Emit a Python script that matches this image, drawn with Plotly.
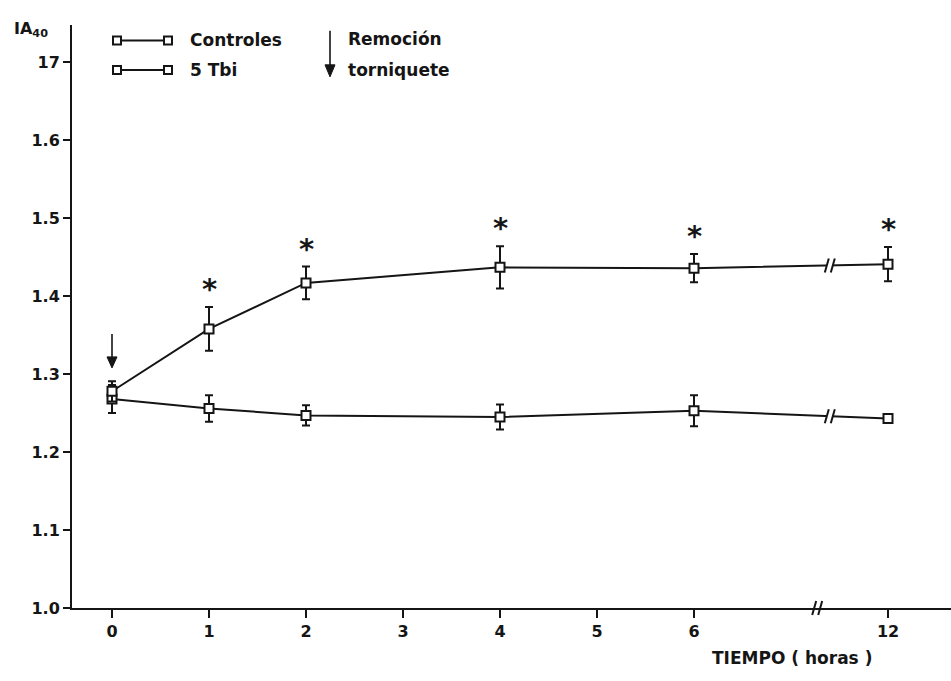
import plotly.graph_objects as go

# Time points (hours) and group means / errors of IA40
hours = [0, 1, 2, 4, 6, 12]
tbi_mean = [1.278, 1.358, 1.417, 1.437, 1.436, 1.441]
tbi_err = [0.013, 0.028, 0.021, 0.027, 0.018, 0.022]
ctl_mean = [1.268, 1.256, 1.247, 1.245, 1.253, 1.243]
ctl_err = [0.018, 0.017, 0.013, 0.016, 0.020, 0.0]
signif = [False, True, True, True, True, True]

x_ticks = [0, 1, 2, 3, 4, 5, 6, 12]
y_ticks = [1.0, 1.1, 1.2, 1.3, 1.4, 1.5, 1.6, 1.7]
y_tick_text = ["1.0", "1.1", "1.2", "1.3", "1.4", "1.5", "1.6", "17"]

W, H = 951, 681
FONT = "DejaVu Sans"
INK = "#151515"


def pos(h):
    # broken time axis: 6 -> 12 h compressed into two unit steps
    return h if h <= 6 else 6 + (h - 6) / 3.0


xp = [pos(h) for h in hours]

fig = go.Figure()

for mean, err in [(ctl_mean, ctl_err), (tbi_mean, tbi_err)]:
    fig.add_trace(go.Scatter(
        x=xp, y=mean, mode="lines+markers",
        line=dict(color=INK, width=2),
        marker=dict(symbol="square", size=9, color="white",
                    line=dict(color=INK, width=2)),
        error_y=dict(type="data", array=err, visible=True,
                     color=INK, thickness=2, width=4),
        showlegend=False, hoverinfo="skip",
    ))

# significance asterisks above the treated group
for x, m, e, s in zip(xp, tbi_mean, tbi_err, signif):
    if s:
        fig.add_annotation(x=x, y=m + e, xref="x", yref="y", text="<b>*</b>",
                           showarrow=False, yanchor="bottom", yshift=-1,
                           font=dict(family=FONT, size=29, color=INK))


def down_arrow(xref, yref, x, y, length, head=11, half=5):
    # vertical arrow whose tip sits at (x, y); sizes in pixels
    fig.add_shape(type="line", xref=xref, yref=yref,
                  xsizemode="pixel", ysizemode="pixel", xanchor=x, yanchor=y,
                  x0=0, x1=0, y0=head - 2, y1=length,
                  line=dict(color=INK, width=1.6))
    fig.add_shape(type="path", xref=xref, yref=yref,
                  xsizemode="pixel", ysizemode="pixel", xanchor=x, yanchor=y,
                  path=f"M 0 0 L {-half} {head} L {half} {head} Z",
                  fillcolor=INK, line=dict(color=INK, width=1))


# tourniquet removal arrow at time 0
down_arrow("x", "y", 0, ctl_mean[0] + 0.040, 34)

# axis break marks
x_break = 7.27
for dx in (-5, 1):
    fig.add_shape(type="line", xref="x", yref="paper",
                  xsizemode="pixel", ysizemode="pixel",
                  xanchor=x_break, yanchor=(H - 617) / H,
                  x0=dx, x1=dx + 4, y0=-7, y1=7,
                  line=dict(color=INK, width=2))

# break marks on the 6 -> 12 h segments
x_lb = 7.40
for mean in (tbi_mean, ctl_mean):
    y_lb = mean[4] + (mean[5] - mean[4]) * (x_lb - xp[4]) / (xp[5] - xp[4])
    fig.add_shape(type="line", xref="x", yref="y",
                  xsizemode="pixel", ysizemode="pixel",
                  xanchor=x_lb, yanchor=y_lb, x0=-3, x1=3, y0=0, y1=0,
                  line=dict(color="white", width=4))
    for dx in (-5, 1):
        fig.add_shape(type="line", xref="x", yref="y",
                      xsizemode="pixel", ysizemode="pixel",
                      xanchor=x_lb, yanchor=y_lb,
                      x0=dx, x1=dx + 4, y0=-7, y1=7,
                      line=dict(color=INK, width=2))

# key, drawn on a pixel overlay
for yk, label in [(41, "Controles"), (71, "5 Tbi")]:
    fig.add_trace(go.Scatter(
        x=[117, 168], y=[yk, yk], xaxis="x2", yaxis="y2",
        mode="lines+markers", line=dict(color=INK, width=2),
        marker=dict(symbol="square", size=8, color="white",
                    line=dict(color=INK, width=2)),
        showlegend=False, hoverinfo="skip"))
    fig.add_annotation(x=188, y=yk, xref="x2", yref="y2", text=f"<b>{label}</b>",
                       showarrow=False, xanchor="left", yanchor="middle",
                       font=dict(family=FONT, size=17, color=INK))

down_arrow("x2", "y2", 330, 78, 46, head=12)
for yk, label in [(40, "Remoción"), (71, "torniquete")]:
    fig.add_annotation(x=346, y=yk, xref="x2", yref="y2", text=f"<b>{label}</b>",
                       showarrow=False, xanchor="left", yanchor="middle",
                       font=dict(family=FONT, size=17, color=INK))

fig.add_annotation(x=12, y=30, xref="x2", yref="y2",
                   text="<b>IA<sub>40</sub></b>", showarrow=False,
                   xanchor="left", yanchor="middle",
                   font=dict(family=FONT, size=16, color=INK))
fig.add_annotation(x=792, y=668, xref="x2", yref="y2",
                   text="<b>TIEMPO ( horas )</b>", showarrow=False,
                   xanchor="center", yanchor="middle",
                   font=dict(family=FONT, size=17, color=INK))

fig.update_layout(
    width=W, height=H, margin=dict(l=0, r=0, t=0, b=0),
    paper_bgcolor="white", plot_bgcolor="rgba(0,0,0,0)",
    xaxis=dict(domain=[72 / W, 1.0], range=[-40 / 97, 839 / 97],
               tickvals=[pos(h) for h in x_ticks],
               ticktext=[str(h) for h in x_ticks],
               ticks="outside", ticklen=8, tickwidth=2, tickcolor=INK,
               showline=True, linewidth=2, linecolor=INK,
               showgrid=False, zeroline=False,
               tickfont=dict(family=FONT, size=16, color=INK, weight="bold")),
    yaxis=dict(domain=[(H - 617) / H, (H - 25) / H],
               range=[1.0, 1.0 + 592 / 791],
               tickvals=y_ticks, ticktext=y_tick_text,
               ticks="outside", ticklen=7, tickwidth=2, tickcolor=INK,
               showline=True, linewidth=2, linecolor=INK,
               showgrid=False, zeroline=False,
               tickfont=dict(family=FONT, size=16, color=INK, weight="bold")),
    xaxis2=dict(domain=[0, 1], range=[0, W], visible=False, anchor="y2"),
    yaxis2=dict(domain=[0, 1], range=[H, 0], visible=False, anchor="x2"),
)

fig.write_html("out.html")
